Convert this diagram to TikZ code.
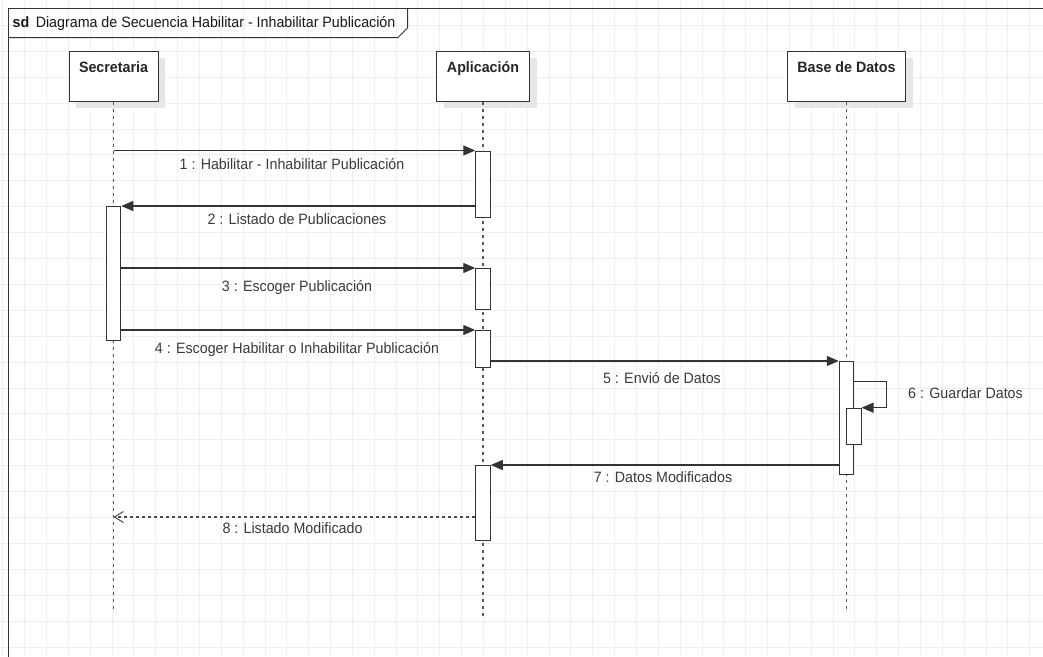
\documentclass[tikz,border=0pt]{standalone}
\usepackage{fontspec}
\setmainfont{Liberation Sans}
\newfontfamily\lbl[FakeStretch=0.95]{Liberation Sans}
\usetikzlibrary{arrows.meta,calc}

\definecolor{gridc}{HTML}{EFEFEF}
\definecolor{linec}{HTML}{333333}
\definecolor{textc}{HTML}{3A3A3A}
\definecolor{shadowc}{HTML}{E6E6E6}

\begin{document}
\begin{tikzpicture}[x=1pt,y=-1pt,
  gridline/.style={draw=gridc, line width=0.9pt},
  frameline/.style={draw=linec, line width=1pt},
  txt/.style={font=\lbl\fontsize{15}{18}\selectfont, text=textc, inner sep=0pt, anchor=base},
  lifebox/.style={draw=linec, fill=white, line width=1pt, inner xsep=0pt, inner ysep=0pt,
    text height=21pt, text depth=29pt, font=\lbl\bfseries\fontsize{15}{18}\selectfont, text=black!85},
  life/.style={draw=black!65, line width=1.1pt, dash pattern=on 3pt off 4pt},
  actbox/.style={draw=linec, fill=white, line width=1pt, inner sep=0pt, minimum width=14.5pt, anchor=north},
  msg/.style={draw=linec, line width=1.2pt, -{Triangle[length=12pt,width=10pt]}},
  reply/.style={draw=black!70, line width=1.2pt, dash pattern=on 3pt off 3pt,
    -{Straight Barb[length=9pt,width=11pt,line width=1pt]}}
]
\useasboundingbox (0,0) rectangle (1043,656);
\fill[white] (0,0) rectangle (1043,656);

% background grid
\foreach \i in {0,...,47} \draw[gridline] ({2.75+21.85*\i},0) -- ++(0,656);
\foreach \j in {0,...,25} \draw[gridline] (0,{25.9*\j-0.5}) -- ++(1043,0);

% sequence diagram frame and its title tab
\draw[frameline] (8,670) -- (8,8) -- (1060,8);
\draw[frameline] (8,37.5) -- (398,37.5) -- (407.5,28) -- (407.5,8);
\node[txt, anchor=base west, text=black!90] (title) at (12.5,27.3)
  {\textbf{sd}\, Diagrama de Secuencia Habilitar - Inhabilitar Publicaci\'on};

% lifeline heads (with shadows)
\coordinate (secX) at (113.5,0);
\coordinate (appX) at (483,0);
\coordinate (dbX)  at (846.5,0);
\foreach \x/\w in {113.5/89, 483/93, 846.5/118}
  \fill[shadowc] ({\x-\w/2+7},58) rectangle ({\x+\w/2+7},108);
\node[lifebox, minimum width=89pt]  (sec) at (113.5,76) {Secretaria};
\node[lifebox, minimum width=93pt]  (app) at (483,76)   {Aplicaci\'on};
\node[lifebox, minimum width=118pt] (db)  at (846.5,76) {Base de Datos};

% lifelines
\coordinate (secEnd) at (113.5,610);
\coordinate (appEnd) at (483,618);
\coordinate (dbEnd)  at (846.5,609);
\draw[life] (sec.south) -- (secEnd);
\draw[life] (app.south) -- (appEnd);
\draw[life] (db.south)  -- (dbEnd);

% activation bars
\node[actbox, minimum height=134pt]  (sA) at (113.5,206) {};
\node[actbox, minimum height=66pt]   (a1) at (483,150.5) {};
\node[actbox, minimum height=41pt]   (a2) at (483,268)   {};
\node[actbox, minimum height=36.7pt] (a3) at (483,330)   {};
\node[actbox, minimum height=75pt]   (a4) at (483,465)   {};
\node[actbox, minimum height=113pt]  (b1) at (846.5,361) {};
\node[actbox, minimum height=36.3pt] (b2) at (853.8,407.7) {};

% messages
\draw[msg] (secX |- a1.north) -- (a1.north west);
\node[txt] (m1) at (292,169.5) {1 : Habilitar - Inhabilitar Publicaci\'on};

\draw[msg] (a1.west |- sA.north) -- (sA.north east);
\node[txt] (m2) at (297,224.7) {2 : Listado de Publicaciones};

\draw[msg] (sA.east |- a2.north) -- (a2.north west);
\node[txt] (m3) at (297,291) {3 : Escoger Publicaci\'on};

\draw[msg] (sA.east |- a3.north) -- (a3.north west);
\node[txt] (m4) at (297,353.3) {4 : Escoger Habilitar o Inhabilitar Publicaci\'on};

\draw[msg] (a3.east |- b1.north) -- (b1.north west);
\node[txt] (m5) at (662,383.5) {5 : Envi\'o de Datos};

\coordinate (loopA) at (b1.east |- 0,381.5);
\coordinate (loopB) at (886.5,381.5);
\draw[msg] (loopA) -- (loopB) |- (b2.north east);
\node[txt, anchor=base west] (m6) at (908,398.3) {6 : Guardar Datos};

\draw[msg] (b1.west |- a4.north) -- (a4.north east);
\node[txt] (m7) at (663,482) {7 : Datos Modificados};

\coordinate (r8) at (a4.west |- 0,517);
\draw[reply] (r8) -- (secX |- r8);
\node[txt] (m8) at (292.5,533.5) {8 : Listado Modificado};
\end{tikzpicture}
\end{document}
